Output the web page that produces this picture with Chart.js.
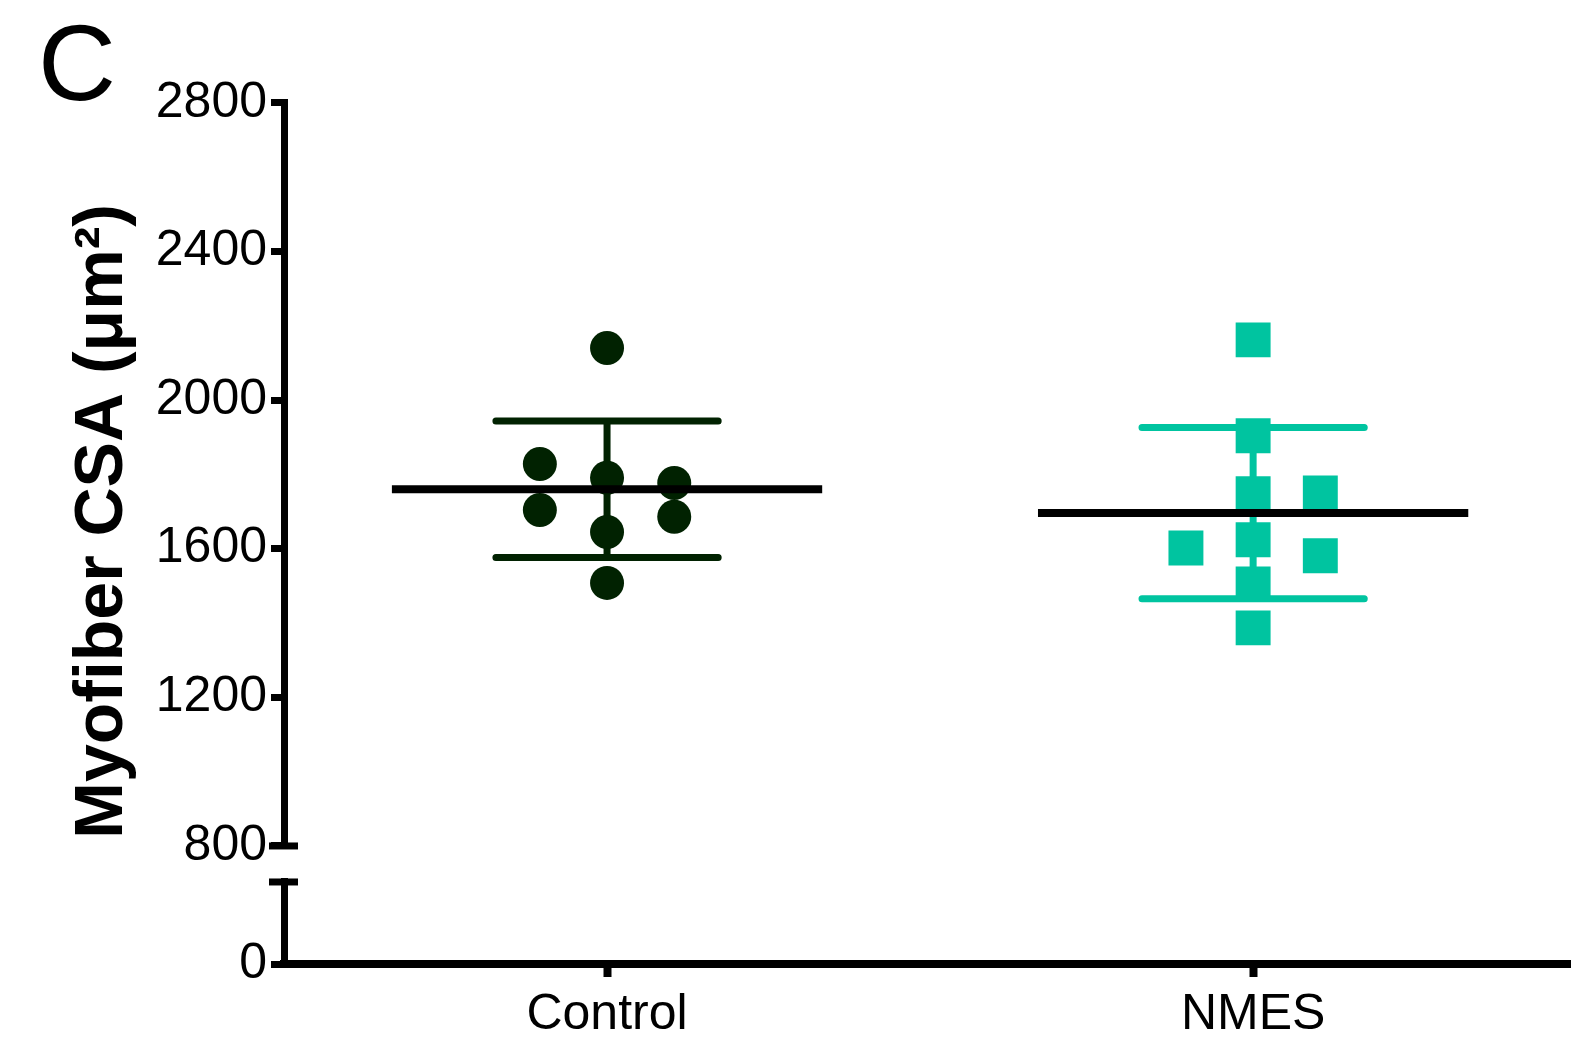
<!DOCTYPE html>
<html>
<head>
<meta charset="utf-8">
<script src="https://cdn.jsdelivr.net/npm/chart.js@4.4.1/dist/chart.umd.min.js"></script>
<style>
  html, body { margin: 0; padding: 0; background: #fff; overflow: hidden; }
  canvas { display: block; }
</style>
</head>
<body>
<canvas id="csaChart" width="1571" height="1045"></canvas>
<script>
var categories = ["Control", "NMES"];
var controlValues = [2140, 1828, 1791, 1777, 1704, 1686, 1645, 1508];
var controlOffsets = [0, -0.104, 0, 0.104, -0.104, 0.104, 0, 0];
var nmesValues = [2162, 1904, 1748, 1750, 1624, 1602, 1581, 1505, 1387];
var nmesOffsets = [0, 0, 0, 0.104, 0, -0.104, 0.104, 0, 0];
var upperTicks = [800, 1200, 1600, 2000, 2400, 2800];
var lowerTicks = [0];

var FONT = "'Liberation Sans', Arial, Helvetica, sans-serif";
var CONTROL_COLOR = '#012201';
var NMES_COLOR = '#00c4a0';

function mean(a) {
    return a.reduce(function (s, v) { return s + v; }, 0) / a.length;
}
function sd(a) {
    var m = mean(a);
    return Math.sqrt(a.reduce(function (s, v) { return s + (v - m) * (v - m); }, 0) / (a.length - 1));
}
function points(i, values, offsets) {
    return values.map(function (v, k) { return { x: i + offsets[k], y: v }; });
}
function meanLine(i, values) {
    var m = mean(values);
    return [{ x: i - 0.333, y: m }, { x: i + 0.333, y: m }];
}
function sdBars(i, values) {
    var m = mean(values), s = sd(values), w = 0.172;
    return [
        { x: i - w, y: m + s }, { x: i + w, y: m + s }, { x: i, y: null },
        { x: i, y: m + s }, { x: i, y: m - s }, { x: i, y: null },
        { x: i - w, y: m - s }, { x: i + w, y: m - s }
    ];
}

// caps drawn where the y axis is broken
var axisBreak = {
    id: 'axisBreak',
    afterDraw: function (chart) {
        var ctx = chart.ctx, x = chart.chartArea.left;
        var ys = [chart.scales.yTop.bottom, chart.scales.yLow.top];
        ctx.save();
        ctx.strokeStyle = '#000';
        ctx.lineWidth = 7;
        ys.forEach(function (y) {
            ctx.beginPath();
            ctx.moveTo(x - 15, y);
            ctx.lineTo(x + 14, y);
            ctx.stroke();
        });
        ctx.restore();
    }
};

var tickFont = { family: FONT, size: 50 };
var yGrid = { display: true, drawOnChartArea: false, tickLength: 13, tickWidth: 7, tickColor: '#000' };
var hidden = { ticks: { display: false }, grid: { display: false }, border: { display: false } };

var ctx = document.getElementById("csaChart").getContext("2d");
var myChart = new Chart(ctx, {
    type: "scatter",
    data: {
        datasets: [
            {
                data: meanLine(0, controlValues),
                showLine: true,
                borderColor: '#000',
                borderWidth: 8,
                pointRadius: 0,
                yAxisID: 'yTop',
                order: 0,
            },
            {
                data: meanLine(1, nmesValues),
                showLine: true,
                borderColor: '#000',
                borderWidth: 8,
                pointRadius: 0,
                yAxisID: 'yTop',
                order: 0,
            },
            {
                data: points(0, controlValues, controlOffsets),
                pointStyle: 'circle',
                pointRadius: 17,
                pointBorderWidth: 0,
                backgroundColor: CONTROL_COLOR,
                yAxisID: 'yTop',
                order: 1,
            },
            {
                data: points(1, nmesValues, nmesOffsets),
                pointStyle: 'rect',
                pointRadius: 24.7,
                pointBorderWidth: 0,
                backgroundColor: NMES_COLOR,
                yAxisID: 'yTop',
                order: 1,
            },
            {
                data: sdBars(0, controlValues),
                showLine: true,
                borderColor: CONTROL_COLOR,
                borderWidth: 7,
                borderCapStyle: 'round',
                pointRadius: 0,
                yAxisID: 'yTop',
                order: 2,
            },
            {
                data: sdBars(1, nmesValues),
                showLine: true,
                borderColor: NMES_COLOR,
                borderWidth: 7,
                borderCapStyle: 'round',
                pointRadius: 0,
                yAxisID: 'yTop',
                order: 2,
            },
        ],
    },
    options: {
        responsive: false,
        animation: false,
        events: [],
        layout: { autoPadding: false, padding: { left: 38, top: 0, right: 0, bottom: 0 } },
        plugins: {
            legend: { display: false },
            tooltip: { enabled: false },
            title: {
                display: true,
                text: 'C',
                align: 'start',
                color: '#000',
                font: { family: FONT, size: 108, weight: 'normal', lineHeight: 0.6 },
                padding: { top: 38, bottom: 0 },
            },
        },
        scales: {
            x: {
                type: 'linear',
                position: 'bottom',
                min: -0.5,
                max: 1.492,
                afterBuildTicks: function (s) { s.ticks = categories.map(function (c, i) { return { value: i }; }); },
                afterFit: function (s) { s.height = 81; s.paddingLeft = 0; s.paddingRight = 0; },
                ticks: {
                    callback: function (v) { return categories[v]; },
                    font: tickFont,
                    color: '#000',
                    padding: 8,
                    maxRotation: 0,
                    autoSkip: false,
                },
                grid: { display: true, drawOnChartArea: false, tickLength: 13, tickWidth: 8, tickColor: '#000' },
                border: { display: true, width: 8, color: '#000' },
            },
            yTitle: Object.assign({
                type: 'linear',
                position: 'left',
                stack: 'label',
                stackWeight: 837,
                weight: 20,
                afterFit: function (s) { s.width = 112; },
                title: {
                    display: true,
                    text: 'Myofiber CSA (μm²)',
                    color: '#000',
                    font: { family: FONT, size: 68, weight: 'bold' },
                    padding: { top: 24, bottom: 0 },
                },
            }, hidden),
            yTitleFill: Object.assign({
                type: 'linear',
                position: 'left',
                stack: 'label',
                stackWeight: 24,
                weight: 19,
                afterFit: function (s) { s.width = 112; },
            }, hidden),
            yTop: {
                type: 'linear',
                position: 'left',
                stack: 'csa',
                stackWeight: 743,
                weight: 3,
                min: 800,
                max: 2800,
                afterBuildTicks: function (s) { s.ticks = upperTicks.map(function (v) { return { value: v }; }); },
                afterFit: function (s) { s.width = 134; },
                ticks: { font: tickFont, color: '#000', padding: 4, callback: function (v) { return String(v); } },
                grid: yGrid,
                border: { display: true, width: 7, color: '#000' },
            },
            yGap: Object.assign({
                type: 'linear',
                position: 'left',
                stack: 'csa',
                stackWeight: 36,
                weight: 2,
                min: 0,
                max: 1,
                afterFit: function (s) { s.width = 134; },
            }, hidden),
            yLow: {
                type: 'linear',
                position: 'left',
                stack: 'csa',
                stackWeight: 82,
                weight: 1,
                min: 0,
                max: 100,
                afterBuildTicks: function (s) { s.ticks = lowerTicks.map(function (v) { return { value: v }; }); },
                afterFit: function (s) { s.width = 134; },
                ticks: { font: tickFont, color: '#000', padding: 4, callback: function (v) { return String(v); } },
                grid: yGrid,
                border: { display: true, width: 7, color: '#000' },
            },
        },
    },
    plugins: [axisBreak],
});
</script>
</body>
</html>
